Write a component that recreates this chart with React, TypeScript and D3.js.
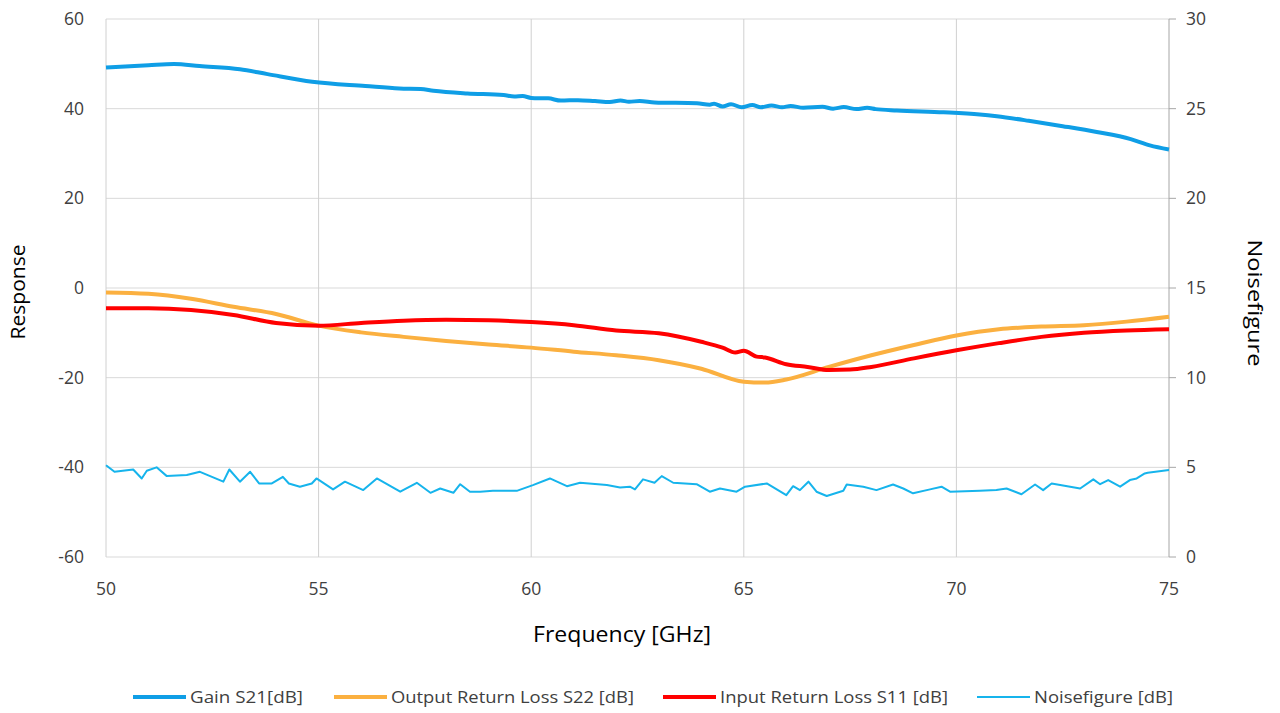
import React, { useRef, useEffect } from 'react';
import * as d3 from 'd3';

// Gain S21 [dB] (left axis)
const gainFreq = [50, 51, 51.6, 52.2, 53.15, 53.8, 54.85, 56.1, 56.9, 57.4, 57.7, 58.5, 59.35, 59.6, 59.8, 60, 60.4, 60.7, 61.1, 61.5, 61.85, 62.1, 62.3, 62.55, 62.9, 63.9, 64.2, 64.3, 64.5, 64.7, 64.95, 65.2, 65.4, 65.65, 65.9, 66.1, 66.4, 66.85, 67.1, 67.35, 67.65, 67.9, 68.1, 68.6, 69.7, 70.55, 70.95, 71.7, 72.5, 73.3, 74.1, 74.55, 75];
const gainVals = [49.2, 49.7, 49.95, 49.5, 48.8, 47.7, 46.0, 45.05, 44.5, 44.4, 44.0, 43.4, 43.05, 42.7, 42.8, 42.4, 42.3, 41.8, 41.9, 41.7, 41.5, 41.8, 41.55, 41.7, 41.4, 41.2, 40.9, 41.1, 40.5, 41.0, 40.3, 40.8, 40.3, 40.7, 40.3, 40.6, 40.2, 40.4, 40.0, 40.35, 39.9, 40.2, 39.9, 39.6, 39.2, 38.7, 38.3, 37.3, 36.1, 34.8, 33.2, 31.8, 30.9];

// Output Return Loss S22 [dB] (left axis)
const s22Freq = [50, 51, 52, 53, 54, 55, 56, 57, 58, 59, 60, 61, 62, 63, 64, 65, 65.5, 66, 67, 68, 69, 70, 71, 72, 73, 74, 75];
const s22Vals = [-1.0, -1.3, -2.4, -4.2, -5.8, -8.4, -9.9, -10.9, -11.8, -12.6, -13.3, -14.2, -15.0, -16.1, -18.0, -20.9, -21.1, -20.4, -17.6, -15.0, -12.7, -10.6, -9.2, -8.6, -8.3, -7.5, -6.4];

// Input Return Loss S11 [dB] (left axis)
const s11Freq = [50, 51, 52, 53, 54, 55, 56, 57, 58, 59, 60, 61, 62, 63, 64, 64.5, 64.8, 65, 65.3, 65.5, 66, 66.5, 67, 67.5, 68, 69, 70, 71, 72, 73, 74, 75];
const s11Vals = [-4.5, -4.5, -4.9, -6.0, -7.8, -8.4, -7.8, -7.3, -7.1, -7.2, -7.6, -8.3, -9.5, -10.1, -12.0, -13.3, -14.4, -14.0, -15.3, -15.5, -17.0, -17.6, -18.3, -18.2, -17.6, -15.7, -13.9, -12.3, -10.9, -10.0, -9.5, -9.2];

// Noisefigure [dB] (right axis)
const nfFreq = [50, 50.2, 50.64, 50.84, 50.96, 51.19, 51.43, 51.9, 52.21, 52.76, 52.9, 53.15, 53.39, 53.6, 53.9, 54.16, 54.3, 54.56, 54.84, 54.95, 55.34, 55.62, 56.05, 56.37, 56.92, 57.31, 57.63, 57.86, 58.17, 58.33, 58.56, 58.8, 59.1, 59.66, 60.04, 60.44, 60.84, 61.15, 61.78, 62.09, 62.32, 62.44, 62.63, 62.9, 63.07, 63.34, 63.89, 64.2, 64.44, 64.83, 65.03, 65.54, 66.0, 66.16, 66.32, 66.52, 66.71, 66.95, 67.34, 67.42, 67.81, 68.12, 68.51, 68.75, 68.98, 69.38, 69.65, 69.85, 70.55, 70.94, 71.18, 71.53, 71.85, 72.04, 72.24, 72.91, 73.22, 73.38, 73.57, 73.85, 74.08, 74.24, 74.43, 74.5, 75];
const nfVals = [5.12, 4.75, 4.88, 4.38, 4.81, 5.0, 4.51, 4.57, 4.75, 4.2, 4.88, 4.2, 4.75, 4.1, 4.1, 4.47, 4.1, 3.92, 4.1, 4.38, 3.77, 4.2, 3.73, 4.38, 3.64, 4.14, 3.58, 3.82, 3.58, 4.06, 3.64, 3.64, 3.69, 3.69, 4.01, 4.38, 3.95, 4.14, 4.01, 3.88, 3.92, 3.77, 4.33, 4.14, 4.51, 4.14, 4.06, 3.64, 3.82, 3.64, 3.92, 4.1, 3.45, 3.95, 3.73, 4.2, 3.64, 3.4, 3.69, 4.04, 3.92, 3.73, 4.04, 3.82, 3.55, 3.77, 3.92, 3.64, 3.69, 3.73, 3.82, 3.5, 4.04, 3.73, 4.1, 3.82, 4.33, 4.06, 4.29, 3.92, 4.29, 4.38, 4.66, 4.7, 4.85];

const xTicks = [50, 55, 60, 65, 70, 75];
const leftTicks = [60, 40, 20, 0, -20, -40, -60];
const rightTicks = [30, 25, 20, 15, 10, 5, 0];

const legendItems = [
  { label: 'Gain S21[dB]', color: '#0f9ee6', width: 4, x: 133, len: 113 },
  { label: 'Output Return Loss S22 [dB]', color: '#fbb040', width: 4, x: 334, len: 243 },
  { label: 'Input Return Loss S11 [dB]', color: '#ff0000', width: 4, x: 663, len: 228 },
  { label: 'Noisefigure [dB]', color: '#16b4ec', width: 2, x: 977, len: 139 },
];

const App = () => {
  const ref = useRef<SVGSVGElement>(null);

  useEffect(() => {
    const svg = d3.select(ref.current);
    svg.selectAll('*').remove();

    const left = 106, right = 1169, top = 19, bottom = 557;
    const font = 'Open Sans, sans-serif';
    const textColor = '#404040';

    const x = d3.scaleLinear().domain([50, 75]).range([left, right]);
    const yL = d3.scaleLinear().domain([-60, 60]).range([bottom, top]);
    const yR = d3.scaleLinear().domain([0, 30]).range([bottom, top]);

    // grid
    const grid = svg.append('g');
    leftTicks.forEach((t) => {
      grid.append('line')
        .attr('x1', left).attr('x2', right)
        .attr('y1', yL(t)).attr('y2', yL(t))
        .attr('stroke', '#d9d9d9').attr('stroke-width', 1);
    });
    xTicks.forEach((t) => {
      grid.append('line')
        .attr('x1', x(t)).attr('x2', x(t))
        .attr('y1', top).attr('y2', bottom)
        .attr('stroke', t === 75 ? '#a6a6a6' : '#d0d0d0').attr('stroke-width', 1);
    });

    // right axis tick marks
    rightTicks.forEach((t) => {
      svg.append('line')
        .attr('x1', right).attr('x2', right + 7)
        .attr('y1', yR(t)).attr('y2', yR(t))
        .attr('stroke', '#a6a6a6').attr('stroke-width', 1);
    });

    // tick labels
    leftTicks.forEach((t) => {
      svg.append('text')
        .attr('x', 84).attr('y', yL(t) + 6)
        .attr('text-anchor', 'end')
        .attr('font-family', font).attr('font-size', 17.5)
        .attr('fill', textColor)
        .text(t);
    });
    rightTicks.forEach((t) => {
      svg.append('text')
        .attr('x', 1186).attr('y', yR(t) + 6)
        .attr('text-anchor', 'start')
        .attr('font-family', font).attr('font-size', 17.5)
        .attr('fill', textColor)
        .text(t);
    });
    xTicks.forEach((t) => {
      svg.append('text')
        .attr('x', x(t)).attr('y', 595)
        .attr('text-anchor', 'middle')
        .attr('font-family', font).attr('font-size', 17.5)
        .attr('fill', textColor)
        .text(t);
    });

    // axis titles
    svg.append('text')
      .attr('transform', `translate(25,292) rotate(-90)`)
      .attr('text-anchor', 'middle')
      .attr('font-family', font).attr('font-size', 20)
      .attr('fill', '#000')
      .attr('textLength', 95).attr('lengthAdjust', 'spacingAndGlyphs')
      .text('Response');
    svg.append('text')
      .attr('transform', `translate(1248,303) rotate(90)`)
      .attr('text-anchor', 'middle')
      .attr('font-family', font).attr('font-size', 20)
      .attr('fill', '#000')
      .attr('textLength', 127).attr('lengthAdjust', 'spacingAndGlyphs')
      .text('Noisefigure');
    svg.append('text')
      .attr('x', 622).attr('y', 642)
      .attr('text-anchor', 'middle')
      .attr('font-family', font).attr('font-size', 21)
      .attr('fill', '#000')
      .attr('textLength', 178).attr('lengthAdjust', 'spacingAndGlyphs')
      .text('Frequency [GHz]');

    // series
    const lineL = d3.line<[number, number]>()
      .x((d) => x(d[0])).y((d) => yL(d[1]))
      .curve(d3.curveMonotoneX);
    const lineR = d3.line<[number, number]>()
      .x((d) => x(d[0])).y((d) => yR(d[1]));

    const zip = (a: number[], b: number[]) => a.map((v, i) => [v, b[i]] as [number, number]);

    svg.append('path')
      .datum(zip(nfFreq, nfVals))
      .attr('d', lineR)
      .attr('fill', 'none').attr('stroke', legendItems[3].color)
      .attr('stroke-width', 2).attr('stroke-linejoin', 'round');

    svg.append('path')
      .datum(zip(s22Freq, s22Vals))
      .attr('d', lineL)
      .attr('fill', 'none').attr('stroke', legendItems[1].color)
      .attr('stroke-width', 4).attr('stroke-linejoin', 'round');

    svg.append('path')
      .datum(zip(s11Freq, s11Vals))
      .attr('d', lineL)
      .attr('fill', 'none').attr('stroke', legendItems[2].color)
      .attr('stroke-width', 4).attr('stroke-linejoin', 'round');

    svg.append('path')
      .datum(zip(gainFreq, gainVals))
      .attr('d', lineL)
      .attr('fill', 'none').attr('stroke', legendItems[0].color)
      .attr('stroke-width', 4).attr('stroke-linejoin', 'round');

    // legend
    const lg = svg.append('g');
    legendItems.forEach((item) => {
      lg.append('line')
        .attr('x1', item.x).attr('x2', item.x + 53)
        .attr('y1', 697).attr('y2', 697)
        .attr('stroke', item.color).attr('stroke-width', item.width);
      lg.append('text')
        .attr('x', item.x + 57).attr('y', 703)
        .attr('font-family', font).attr('font-size', 17)
        .attr('fill', textColor)
        .attr('textLength', item.len).attr('lengthAdjust', 'spacingAndGlyphs')
        .text(item.label);
    });
  }, []);

  return (
    <svg ref={ref} width={1280} height={713} style={{ position: 'absolute', left: 0, top: 0, background: '#fff' }} />
  );
};

export default App;
